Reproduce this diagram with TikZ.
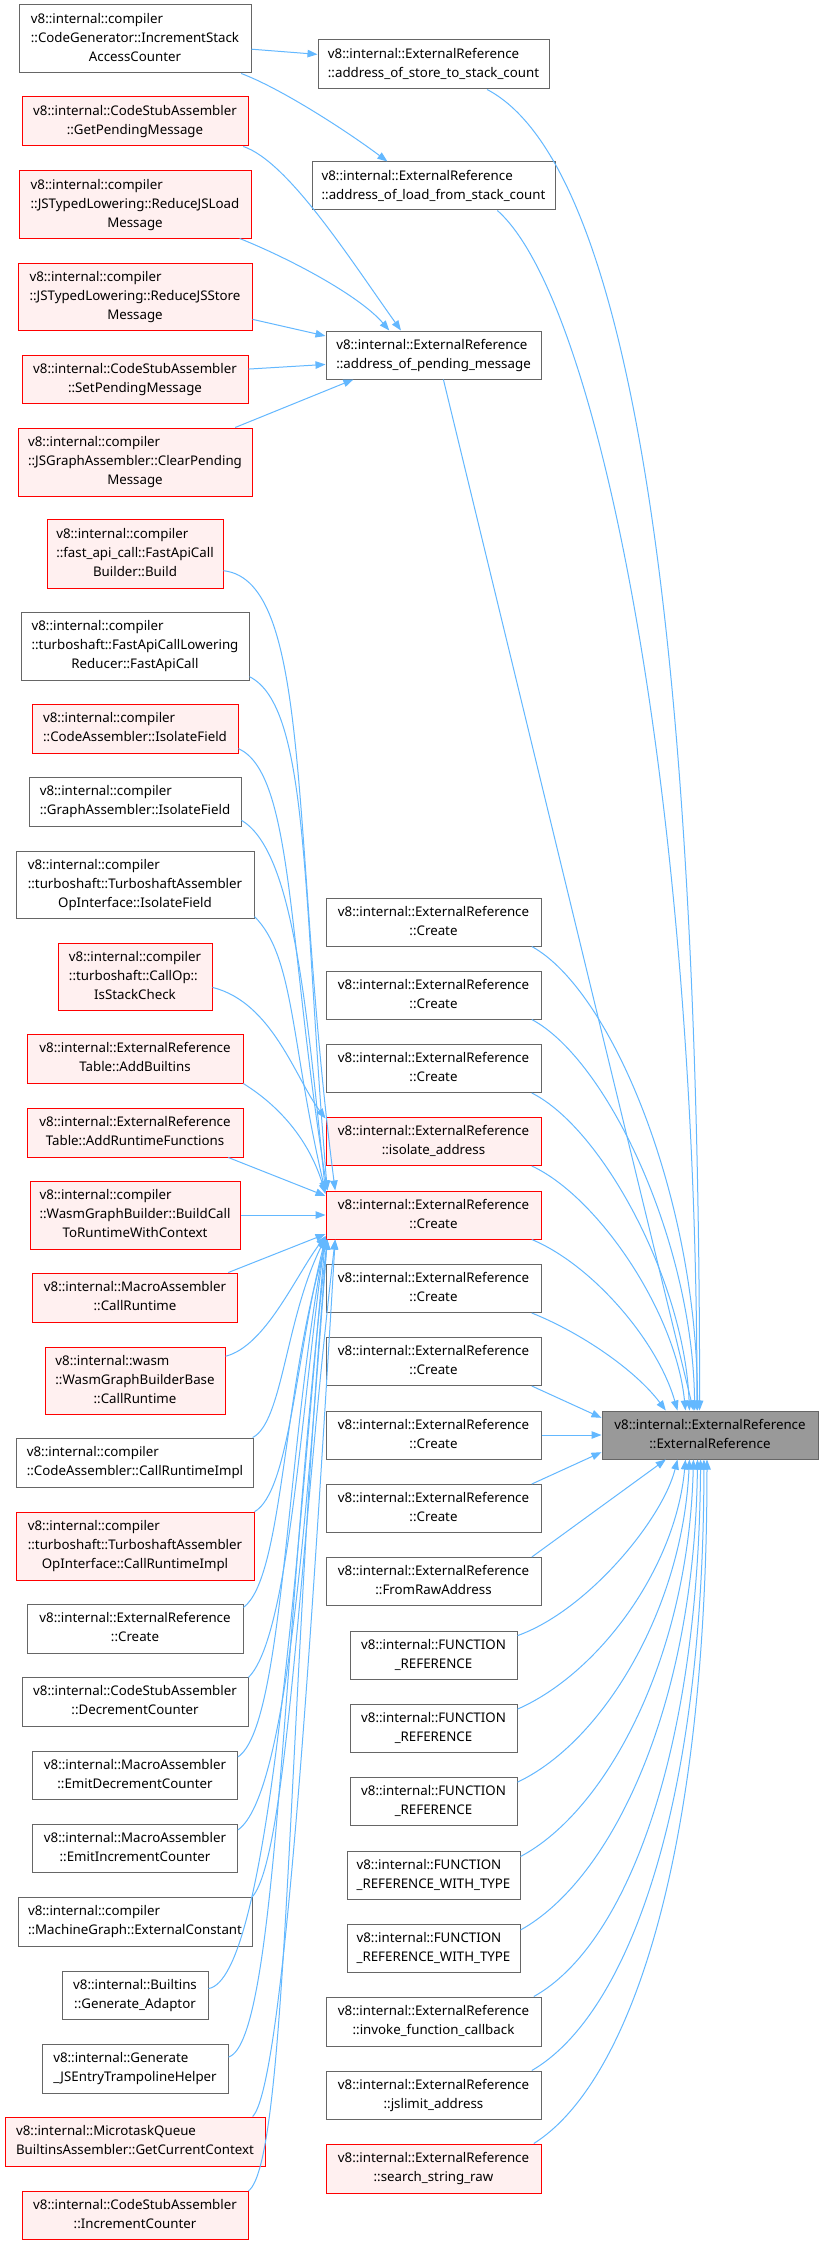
\documentclass[tikz,border=0pt]{standalone}
\usepackage{fontspec}
\setmainfont{Noto Sans}
\usetikzlibrary{arrows.meta}
\definecolor{edgec}{HTML}{63B8FF}
\definecolor{gbord}{HTML}{666666}
\definecolor{rfill}{HTML}{FFF0F0}
\definecolor{rootf}{HTML}{999999}
\newcommand\twoL[2]{\begin{tabular}{@{}l@{}}#1\\\multicolumn{1}{@{}c@{}}{#2}\end{tabular}}
\newcommand\threeL[3]{\begin{tabular}{@{}l@{}}#1\\#2\\\multicolumn{1}{@{}c@{}}{#3}\end{tabular}}
\begin{document}
\begin{tikzpicture}[x=1pt,y=-1pt,
  gbox/.style={draw=gbord, fill=white, line width=1pt, inner sep=0pt, font=\fontsize{13.3}{19}\selectfont},
  rbox/.style={gbox, draw=red, fill=rfill},
  rootbox/.style={gbox, draw=gbord, fill=rootf},
  conn/.style={draw=edgec, line width=1pt, -{Triangle[length=10pt,width=7.5pt]}}]
\useasboundingbox (0,0) rectangle (824,2245);
\fill[white] (0,0) rectangle (824,2245);
% left column
\node[gbox, minimum width=232pt, minimum height=68pt] (L1) at (135,39) {\threeL{v8::internal::compiler}{::CodeGenerator::IncrementStack}{AccessCounter}};
\node[rbox, minimum width=226pt, minimum height=49pt] (L2) at (135,121.5) {\twoL{v8::internal::CodeStubAssembler}{::GetPendingMessage}};
\node[rbox, minimum width=232pt, minimum height=67pt] (L3) at (135,204.5) {\threeL{v8::internal::compiler}{::JSTypedLowering::ReduceJSLoad}{Message}};
\node[rbox, minimum width=234pt, minimum height=67pt] (L4) at (135,296.5) {\threeL{v8::internal::compiler}{::JSTypedLowering::ReduceJSStore}{Message}};
\node[rbox, minimum width=226pt, minimum height=48pt] (L5) at (135,379) {\twoL{v8::internal::CodeStubAssembler}{::SetPendingMessage}};
\node[rbox, minimum width=234pt, minimum height=68pt] (L6) at (135,462) {\threeL{v8::internal::compiler}{::JSGraphAssembler::ClearPending}{Message}};
\node[rbox, minimum width=176pt, minimum height=69pt] (L7) at (135,553.5) {\threeL{v8::internal::compiler}{::fast\_api\_call::FastApiCall}{Builder::Build}};
\node[gbox, minimum width=228pt, minimum height=68pt] (L8) at (135,646) {\threeL{v8::internal::compiler}{::turboshaft::FastApiCallLowering}{Reducer::FastApiCall}};
\node[rbox, minimum width=206pt, minimum height=49pt] (L9) at (135,728.5) {\twoL{v8::internal::compiler}{::CodeAssembler::IsolateField}};
\node[gbox, minimum width=212pt, minimum height=49pt] (L10) at (135,801.5) {\twoL{v8::internal::compiler}{::GraphAssembler::IsolateField}};
\node[gbox, minimum width=238pt, minimum height=67pt] (L11) at (135,884.5) {\threeL{v8::internal::compiler}{::turboshaft::TurboshaftAssembler}{OpInterface::IsolateField}};
\node[rbox, minimum width=154pt, minimum height=67pt] (L12) at (135,976.5) {\threeL{v8::internal::compiler}{::turboshaft::CallOp::}{IsStackCheck}};
\node[rbox, minimum width=216pt, minimum height=49pt] (L13) at (135,1058.5) {\twoL{v8::internal::ExternalReference}{Table::AddBuiltins}};
\node[rbox, minimum width=216pt, minimum height=49pt] (L14) at (135,1132.5) {\twoL{v8::internal::ExternalReference}{Table::AddRuntimeFunctions}};
\node[rbox, minimum width=210pt, minimum height=68pt] (L15) at (135,1215) {\threeL{v8::internal::compiler}{::WasmGraphBuilder::BuildCall}{ToRuntimeWithContext}};
\node[rbox, minimum width=205pt, minimum height=49pt] (L16) at (135,1297.5) {\twoL{v8::internal::MacroAssembler}{::CallRuntime}};
\node[rbox, minimum width=180pt, minimum height=67pt] (L17) at (135,1380.5) {\threeL{v8::internal::wasm}{::WasmGraphBuilderBase}{::CallRuntime}};
\node[gbox, minimum width=237pt, minimum height=49pt] (L18) at (135,1462.5) {\twoL{v8::internal::compiler}{::CodeAssembler::CallRuntimeImpl}};
\node[rbox, minimum width=238pt, minimum height=68pt] (L19) at (135,1546) {\threeL{v8::internal::compiler}{::turboshaft::TurboshaftAssembler}{OpInterface::CallRuntimeImpl}};
\node[gbox, minimum width=216pt, minimum height=49pt] (L20) at (135,1628.5) {\twoL{v8::internal::ExternalReference}{::Create}};
\node[gbox, minimum width=226pt, minimum height=49pt] (L21) at (135,1701.5) {\twoL{v8::internal::CodeStubAssembler}{::DecrementCounter}};
\node[gbox, minimum width=205pt, minimum height=48pt] (L22) at (135,1775) {\twoL{v8::internal::MacroAssembler}{::EmitDecrementCounter}};
\node[gbox, minimum width=205pt, minimum height=48pt] (L23) at (135,1848) {\twoL{v8::internal::MacroAssembler}{::EmitIncrementCounter}};
\node[gbox, minimum width=234pt, minimum height=49pt] (L24) at (135,1921.5) {\twoL{v8::internal::compiler}{::MachineGraph::ExternalConstant}};
\node[gbox, minimum width=146pt, minimum height=48pt] (L25) at (135,1995) {\twoL{v8::internal::Builtins}{::Generate\_Adaptor}};
\node[gbox, minimum width=186pt, minimum height=49pt] (L26) at (135,2068.5) {\twoL{v8::internal::Generate}{\_JSEntryTrampolineHelper}};
\node[rbox, minimum width=260pt, minimum height=49pt] (L27) at (135,2141.5) {\twoL{v8::internal::MicrotaskQueue}{BuiltinsAssembler::GetCurrentContext}};
\node[rbox, minimum width=226pt, minimum height=48pt] (L28) at (135,2215) {\twoL{v8::internal::CodeStubAssembler}{::IncrementCounter}};
% middle column
\node[gbox, minimum width=231pt, minimum height=49pt] (M1) at (433.5,64.5) {\twoL{v8::internal::ExternalReference}{::address\_of\_store\_to\_stack\_count}};
\node[gbox, minimum width=243pt, minimum height=48pt] (M2) at (433.5,186) {\twoL{v8::internal::ExternalReference}{::address\_of\_load\_from\_stack\_count}};
\node[gbox, minimum width=215pt, minimum height=48pt] (M3) at (433.5,355) {\twoL{v8::internal::ExternalReference}{::address\_of\_pending\_message}};
\node[gbox, minimum width=215pt, minimum height=48pt] (M4) at (433.5,922) {\twoL{v8::internal::ExternalReference}{::Create}};
\node[gbox, minimum width=215pt, minimum height=48pt] (M5) at (433.5,995) {\twoL{v8::internal::ExternalReference}{::Create}};
\node[gbox, minimum width=215pt, minimum height=48pt] (M6) at (433.5,1068.5) {\twoL{v8::internal::ExternalReference}{::Create}};
\node[rbox, minimum width=215pt, minimum height=48pt] (M7) at (433.5,1141.5) {\twoL{v8::internal::ExternalReference}{::isolate\_address}};
\node[rbox, minimum width=215pt, minimum height=48pt] (M8) at (433.5,1215) {\twoL{v8::internal::ExternalReference}{::Create}};
\node[gbox, minimum width=215pt, minimum height=48pt] (M9) at (433.5,1288.5) {\twoL{v8::internal::ExternalReference}{::Create}};
\node[gbox, minimum width=215pt, minimum height=48pt] (M10) at (433.5,1361.5) {\twoL{v8::internal::ExternalReference}{::Create}};
\node[gbox, minimum width=215pt, minimum height=48pt] (M11) at (433.5,1435) {\twoL{v8::internal::ExternalReference}{::Create}};
\node[gbox, minimum width=215pt, minimum height=48pt] (M12) at (433.5,1508.5) {\twoL{v8::internal::ExternalReference}{::Create}};
\node[gbox, minimum width=215pt, minimum height=48pt] (M13) at (433.5,1581.5) {\twoL{v8::internal::ExternalReference}{::FromRawAddress}};
\node[gbox, minimum width=167pt, minimum height=48pt] (M14) at (433.5,1655) {\twoL{v8::internal::FUNCTION}{\_REFERENCE}};
\node[gbox, minimum width=167pt, minimum height=48pt] (M15) at (433.5,1728.5) {\twoL{v8::internal::FUNCTION}{\_REFERENCE}};
\node[gbox, minimum width=167pt, minimum height=48pt] (M16) at (433.5,1801.5) {\twoL{v8::internal::FUNCTION}{\_REFERENCE}};
\node[gbox, minimum width=173pt, minimum height=48pt] (M17) at (433.5,1875) {\twoL{v8::internal::FUNCTION}{\_REFERENCE\_WITH\_TYPE}};
\node[gbox, minimum width=173pt, minimum height=48pt] (M18) at (433.5,1948.5) {\twoL{v8::internal::FUNCTION}{\_REFERENCE\_WITH\_TYPE}};
\node[gbox, minimum width=215pt, minimum height=49pt] (M19) at (433.5,2021.5) {\twoL{v8::internal::ExternalReference}{::invoke\_function\_callback}};
\node[gbox, minimum width=215pt, minimum height=48pt] (M20) at (433.5,2095) {\twoL{v8::internal::ExternalReference}{::jslimit\_address}};
\node[rbox, minimum width=215pt, minimum height=49pt] (M21) at (433.5,2168.5) {\twoL{v8::internal::ExternalReference}{::search\_string\_raw}};
% root
\node[rootbox, minimum width=216pt, minimum height=48pt] (R) at (710,1435) {\twoL{v8::internal::ExternalReference}{::ExternalReference}};
% left -> middle (top)
\draw[conn] (L1.355) -- (M1.175);
\draw[conn] (L1.342) .. controls +(40,15) and +(-40,-30) .. (M2.152);
\draw[conn] (L2.347) .. controls +(45,15) and +(-50,-70) .. (M3.143);
\draw[conn] (L3.342) .. controls +(50,20) and +(-30,-35) .. (M3.151);
\draw[conn] (L4.349) -- (M3.170);
\draw[conn] (L5.5) -- (M3.185);
\draw[conn] (L6.19) -- (M3.197);
\draw[conn] (L12.352) .. controls +(60,15) and +(-30,-40) .. (M7.168);
% left -> hub, upper group
\draw[conn] (L7.349) .. controls +(90,10) and +(-45,-350) .. (M8.166);
\draw[conn] (L8.345) .. controls +(60,30) and +(-25,-300) .. (M8.167);
\draw[conn] (L9.349) .. controls +(55,25) and +(-40,-250) .. (M8.167);
\draw[conn] (L10.350) .. controls +(50,30) and +(-20,-200) .. (M8.168);
\draw[conn] (L11.345) .. controls +(40,40) and +(-35,-150) .. (M8.168);
\draw[conn] (L13.347) .. controls +(40,25) and +(-15,-50) .. (M8.169);
\draw[conn] (L14.345) -- (M8.170);
\draw[conn] (L15.east) -- (M8.west);
% left -> hub, lower group
\draw[conn] (L16.15) -- (M8.190);
\draw[conn] (L17.15) .. controls +(40,-10) and +(-30,40) .. (M8.191);
\draw[conn] (L18.12) .. controls +(30,-15) and +(-40,80) .. (M8.192);
\draw[conn] (L19.16) .. controls +(35,-20) and +(-30,120) .. (M8.192);
\draw[conn] (L20.11) .. controls +(40,-30) and +(-45,150) .. (M8.193);
\draw[conn] (L21.12) .. controls +(40,-40) and +(-25,180) .. (M8.191);
\draw[conn] (L22.10) .. controls +(45,-30) and +(-40,220) .. (M8.192);
\draw[conn] (L23.10) .. controls +(50,-35) and +(-20,260) .. (M8.193);
\draw[conn] (L24.12) .. controls +(35,-40) and +(-35,300) .. (M8.194);
\draw[conn] (L25.5) .. controls +(60,-10) and +(-30,330) .. (M8.192);
\draw[conn] (L26.7) .. controls +(50,-15) and +(-45,380) .. (M8.193);
\draw[conn] (L27.12) .. controls +(30,-30) and +(-25,420) .. (M8.194);
\draw[conn] (L28.12) .. controls +(40,-30) and +(-40,460) .. (M8.193);
% middle -> root
\draw[conn] (M1.335) .. controls +(154,81) and +(0,-711) .. (R.113);
\draw[conn] (M2.339) .. controls +(102,90) and +(0,-611) .. (R.118);
\draw[conn] (M3.292) -- (R.124);
\draw[conn] (M4.346) .. controls +(80,44) and +(0,-211) .. (R.117);
\draw[conn] (M5.346) .. controls +(75,40) and +(-2,-170) .. (R.122);
\draw[conn] (M6.346) .. controls +(70,35) and +(-5,-130) .. (R.130);
\draw[conn] (M7.346) .. controls +(65,30) and +(-10,-100) .. (R.135);
\draw[conn] (M8.346) .. controls +(60,25) and +(-20,-70) .. (R.143);
\draw[conn] (M9.346) .. controls +(50,20) and +(-30,-40) .. (R.151);
\draw[conn] (M10.346) -- (R.171);
\draw[conn] (M11.east) -- (R.west);
\draw[conn] (M12.14) -- (R.189);
\draw[conn] (M13.14) -- (R.209);
\draw[conn] (M14.13) .. controls +(70,-25) and +(-15,60) .. (R.217);
\draw[conn] (M15.13) .. controls +(80,-35) and +(-10,110) .. (R.225);
\draw[conn] (M16.13) .. controls +(85,-40) and +(-7,150) .. (R.230);
\draw[conn] (M17.12) .. controls +(85,-45) and +(-5,200) .. (R.236);
\draw[conn] (M18.12) .. controls +(90,-50) and +(-3,250) .. (R.243);
\draw[conn] (M19.14) .. controls +(90,-50) and +(-2,300) .. (R.249);
\draw[conn] (M20.14) .. controls +(95,-55) and +(0,350) .. (R.256);
\draw[conn] (M21.14) .. controls +(95,-60) and +(0,400) .. (R.263);
\end{tikzpicture}
\end{document}
